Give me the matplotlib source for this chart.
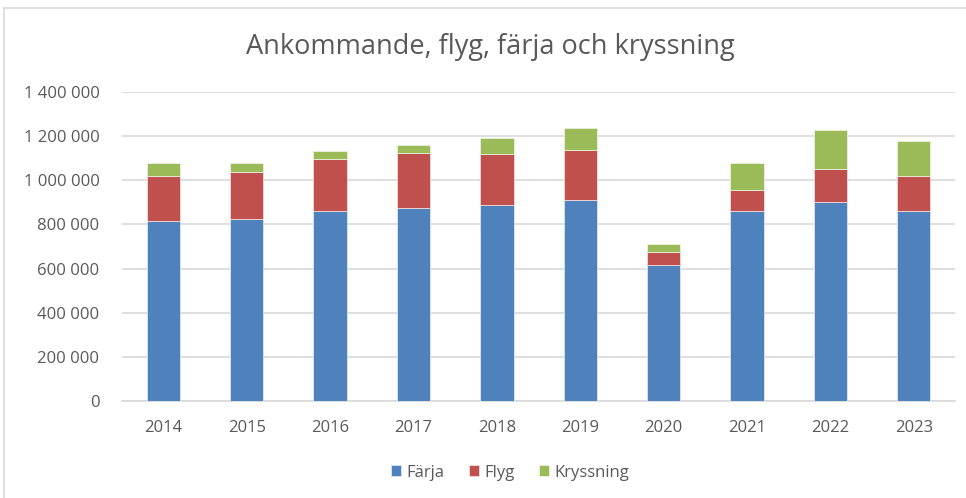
import matplotlib
matplotlib.use("Agg")
import matplotlib.pyplot as plt
from matplotlib.patches import Rectangle
from matplotlib.ticker import FuncFormatter
import numpy as np

years = ["2014", "2015", "2016", "2017", "2018", "2019", "2020", "2021", "2022", "2023"]
farja = [817000, 826000, 860000, 876000, 886000, 910000, 618000, 860000, 900000, 860000]
flyg = [201000, 213000, 238000, 248000, 232000, 228000, 59000, 94000, 150000, 158000]
kryssning = [61000, 40000, 34000, 38000, 73000, 98000, 35000, 126000, 177000, 159000]

plt.rcParams['font.family'] = ['Open Sans', 'DejaVu Sans']
text_color = '#595959'

fig = plt.figure(figsize=(9.66, 4.98), dpi=100)
ax = fig.add_axes([0.126, 0.195, 0.863, 0.62])

# chart border
fig.patches.append(Rectangle((4 / 966, -0.01), 1.0, 1 - 8 / 498 + 0.01, transform=fig.transFigure,
                             fill=False, edgecolor='#D9D9D9', linewidth=1.2))

x = np.arange(len(years))
w = 0.4
bottom2 = np.array(farja)
bottom3 = bottom2 + np.array(flyg)
ax.bar(x, farja, w, color='#4F81BD', edgecolor='#DCE6F2', linewidth=0.6, label='Färja', zorder=3)
ax.bar(x, flyg, w, bottom=bottom2, color='#C0504D', edgecolor='#F2DCDB', linewidth=0.6, label='Flyg', zorder=3)
ax.bar(x, kryssning, w, bottom=bottom3, color='#9BBB59', edgecolor='#EBF1DE', linewidth=0.6, label='Kryssning', zorder=3)

ax.set_xlim(-0.5, len(years) - 0.5)
ax.set_ylim(0, 1400000)
ax.set_yticks(np.arange(0, 1400001, 200000))
ax.yaxis.set_major_formatter(FuncFormatter(lambda v, p: f'{int(v):,}'.replace(',', ' ')))
ax.set_xticks(x)
ax.set_xticklabels(years)
ax.grid(axis='y', color='#D9D9D9', linewidth=1.2, zorder=0)
for s in ['top', 'right', 'left']:
    ax.spines[s].set_visible(False)
ax.spines['bottom'].set_color('#D9D9D9')
ax.spines['bottom'].set_linewidth(1.2)
ax.tick_params(axis='both', length=0, labelsize=12, colors=text_color)
ax.tick_params(axis='y', pad=16)
ax.tick_params(axis='x', pad=14)

fig.text(0.508, 0.905, 'Ankommande, flyg, färja och kryssning', ha='center', va='center',
         fontsize=19.5, color=text_color)

ax.legend(loc='center', bbox_to_anchor=(0.466, -0.232), ncol=3, frameon=False, fontsize=12,
          labelcolor=text_color, handlelength=0.6, handleheight=0.6, handletextpad=0.3,
          columnspacing=1.5)

fig.savefig('out.png', dpi=100)
